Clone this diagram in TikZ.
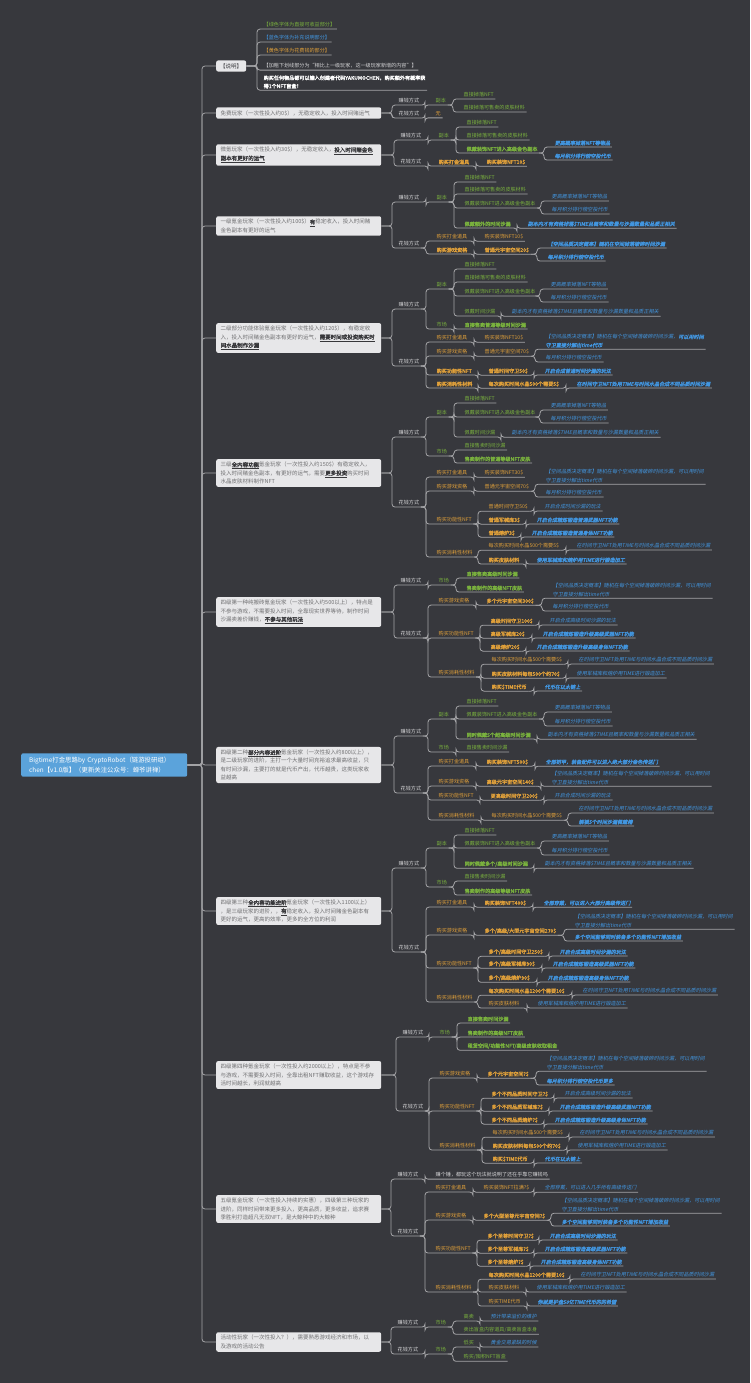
\documentclass[tikz,border=0pt]{standalone}
\usepackage{fontspec}
\setmainfont{Noto Sans CJK SC}[AutoFakeBold=2,AutoFakeSlant=0.2]
\usepackage{tikz}
\definecolor{canvas}{RGB}{55,56,61}
\definecolor{wire}{RGB}{165,165,168}
\definecolor{rootblue}{RGB}{91,163,219}
\definecolor{boxfill}{RGB}{231,231,233}
\definecolor{boxtext}{RGB}{112,112,114}
\definecolor{boxdark}{RGB}{55,55,58}
\definecolor{earngreen}{RGB}{122,178,62}
\definecolor{noteblue}{RGB}{66,150,224}
\definecolor{costorange}{RGB}{224,160,58}
\definecolor{labelgrey}{RGB}{214,214,216}
\newcommand{\fsz}{\fontsize{5.1}{8.3}\selectfont}
\newcommand{\keyhl}[1]{{\bfseries\color{boxdark}\underline{#1}}}
\newcommand{\limb}[6][wt]{%
  \node[#1] (#2) at (#4,#5) {#6};
  \draw[link] (#3.east) -| ([xshift=-5pt]#2.south west) -- (#2.south east);}
\newcommand{\twig}[6][gt]{%
  \node[#1] (#2) at (#4,#5) {#6};
  \draw[link] (#3.south east) -| ([xshift=-9pt]#2.south west) -- (#2.south east);}
\tikzset{
  base/.style={anchor=west, inner xsep=1.5pt, inner ysep=1.5pt, align=left, font=\fsz},
  wt/.style={base, text=labelgrey},
  nt/.style={base, text=white, font=\fsz\bfseries},
  gt/.style={base, text=earngreen},
  gtb/.style={gt, font=\fsz\bfseries},
  bu/.style={base, text=noteblue},
  bt/.style={base, text=noteblue, font=\fsz\itshape},
  btb/.style={bt, font=\fsz\bfseries\itshape},
  ot/.style={base, text=costorange},
  otb/.style={ot, font=\fsz\bfseries},
  link/.style={draw=wire, line width=0.8pt, rounded corners=3pt},
  tier/.style={anchor=west, fill=boxfill, rounded corners=2pt, text=boxtext, text width=156pt, align=left, inner xsep=4.5pt, inner ysep=3pt, font=\fontsize{5.5}{8.3}\selectfont},
  keybox/.style={anchor=west, fill=boxfill, rounded corners=2pt, text=boxdark, inner xsep=4pt, inner ysep=3pt, font=\fontsize{5.5}{8.3}\selectfont},
  rootbox/.style={anchor=west, fill=rootblue, rounded corners=2pt, text=white, text width=150pt, align=left, inner xsep=8pt, inner ysep=4pt, font=\fontsize{6.4}{9.3}\selectfont}
}
\begin{document}
\begin{tikzpicture}[x=1pt, y=-1pt]
\fill[canvas] (0,0) rectangle (750,1383);
\useasboundingbox (0,0) rectangle (750,1383);

\node[rootbox] (root) at (21,765) {Bigtime打金思路by CryptoRobot（链游投研组）\\chen【v1.0版】（更新关注公众号：蝉爷讲禅）};

\node[keybox] (A) at (216,66) {【说明】};
\node[tier] (B) at (216,113) {免费玩家（一次性投入约0\$），无稳定收入，投入时间赌运气};
\node[tier] (C) at (216,155) {微氪玩家（一次性投入约30\$），无稳定收入，\keyhl{投入时间赌金色}\\\keyhl{副本有更好的运气}};
\node[tier] (D) at (216,226) {一级氪金玩家（一次性投入约100\$）\keyhl{有}稳定收入，投入时间赌\\金色副本有更好的运气};
\node[tier] (E) at (216,338) {二级部分功能体验氪金玩家（一次性投入约120\$），有稳定收\\入，投入时间赌金色副本有更好的运气，\keyhl{需要时间或投资购买时}\\\keyhl{间水晶制作沙漏}};
\node[tier] (F) at (216,473) {三级\keyhl{全内容功能}氪金玩家（一次性投入约150\$）有稳定收入，\\投入时间赌金色副本，有更好的运气，需要\keyhl{更多投资}购买时间\\水晶皮肤材料制作NFT};
\node[tier] (G) at (216,612) {四级第一种纯搬砖氪金玩家（一次性投入约500以上），特点是\\不参与游戏，不需要投入时间，全靠现实世界等待，制作时间\\沙漏卖差价赚钱，\keyhl{不参与其他玩法}};
\node[tier] (H) at (216,765) {四级第二种\keyhl{部分内容进阶}氪金玩家（一次性投入约800以上），\\是二级玩家的进阶，主打一个大量时间充裕追求最高收益，只\\有时间沙漏，主要打的就是代币产出，代币越贵，这类玩家收\\益越高};
\node[tier] (I) at (216,911) {四级第三种\keyhl{全内容功能进阶}氪金玩家（一次性投入1100以上）\\，是三级玩家的进阶，，\keyhl{有}稳定收入，投入时间赌金色副本有\\更好的运气，更高的效率，更多的全方位的利润};
\node[tier] (J) at (216,1075) {四级第四种氪金玩家（一次性投入约2000以上），特点是不参\\与游戏，不需要投入时间，全靠出租NFT赚取收益，这个游戏存\\活时间越长，利润就越高};
\node[tier] (K) at (216,1209) {五级氪金玩家（一次性投入持续的实惠），四级第三种玩家的\\进阶，同样时间带来更多投入，更高品质，更多收益，追求赛\\季胜利打造超凡无双NFT，是大鲸种中的大鲸种};
\node[tier] (L) at (216,1342) {活动性玩家（一次性投入？），需要熟悉游戏经济和市场，以\\及游戏的活动公告};

\draw[link] (root.east) -| ([xshift=-14pt]A.west) -- (A.west);
\draw[link] (root.east) -| ([xshift=-14pt]B.west) -- (B.west);
\draw[link] (root.east) -| ([xshift=-14pt]C.west) -- (C.west);
\draw[link] (root.east) -| ([xshift=-14pt]D.west) -- (D.west);
\draw[link] (root.east) -| ([xshift=-14pt]E.west) -- (E.west);
\draw[link] (root.east) -| ([xshift=-14pt]F.west) -- (F.west);
\draw[link] (root.east) -| ([xshift=-14pt]G.west) -- (G.west);
\draw[link] (root.east) -| ([xshift=-14pt]H.west) -- (H.west);
\draw[link] (root.east) -| ([xshift=-14pt]I.west) -- (I.west);
\draw[link] (root.east) -| ([xshift=-14pt]J.west) -- (J.west);
\draw[link] (root.east) -| ([xshift=-14pt]K.west) -- (K.west);
\draw[link] (root.east) -| ([xshift=-14pt]L.west) -- (L.west);

\limb[gt]{A1}{A}{262}{25}{【绿色字体为直接可收益部分】}
\limb[bu]{A2}{A}{262}{38}{【蓝色字体为补充说明部分】}
\limb[ot]{A3}{A}{262}{51}{【黄色字体为花费钱的部分】}
\limb[wt]{A4}{A}{262}{66}{【加粗下划线部分为“相比上一级玩家，这一级玩家新增的内容”】}
\limb[nt]{A5}{A}{262}{82}{购买任何物品都可以输入创建者代码YAKUMOCHEN，购买额外有概率获\\得1个NFT盲盒！}

\limb{Be}{B}{397}{101}{赚钱方式}
\twig[gt]{Be1}{Be}{434}{101}{副本}
\twig[gt]{Be11}{Be1}{462}{95}{直接掉落NFT}
\twig[gt]{Be12}{Be1}{462}{108}{直接掉落可售卖的皮肤材料}
\limb{Bs}{B}{397}{114}{花钱方式}
\twig[ot]{Bs1}{Bs}{434}{114}{无}

\limb{Ce}{C}{399}{136}{赚钱方式}
\twig[gt]{Ce1}{Ce}{437}{136}{副本}
\twig[gt]{Ce11}{Ce1}{465}{123}{直接掉落NFT}
\twig[gt]{Ce12}{Ce1}{465}{136}{直接掉落可售卖的皮肤材料}
\twig[gtb]{Ce13}{Ce1}{465}{149}{佩戴装饰NFT进入高级金色副本}
\twig[btb]{Ce131}{Ce13}{553}{143}{更高概率掉落NFT等物品}
\twig[btb]{Ce132}{Ce13}{553}{156}{每月积分排行榜空投代币}
\limb{Cs}{C}{399}{162}{花钱方式}
\twig[otb]{Cs1}{Cs}{437}{162}{购买打金道具}
\twig[otb]{Cs11}{Cs1}{485}{162}{购买装饰NFT10\$}

\limb{De}{D}{397}{198}{赚钱方式}
\twig[gt]{De1}{De}{435}{198}{副本}
\twig[gt]{De11}{De1}{463}{178}{直接掉落NFT}
\twig[gt]{De12}{De1}{463}{190}{直接掉落可售卖的皮肤材料}
\twig[gt]{De13}{De1}{463}{204}{佩戴装饰NFT进入高级金色副本}
\twig[bt]{De131}{De13}{550}{197}{更高概率掉落NFT等物品}
\twig[bt]{De132}{De13}{550}{210}{每月积分排行榜空投代币}
\twig[gtb]{De14}{De1}{463}{224}{佩戴额外的时间沙漏}
\twig[btb]{De141}{De14}{526}{224}{副本内才有资格掉落\$TIME且概率和数量与沙漏数量和品质正相关}
\limb{Ds}{D}{397}{244}{花钱方式}
\twig[ot]{Ds1}{Ds}{435}{237}{购买打金道具}
\twig[ot]{Ds11}{Ds1}{483}{237}{购买装饰NFT10\$}
\twig[otb]{Ds2}{Ds}{435}{250}{购买游戏资格}
\twig[otb]{Ds21}{Ds2}{483}{250}{普通元宇宙空间20\$}
\twig[btb]{Ds211}{Ds21}{546}{244}{【空间品质决定概率】随机在空间掉落破碎时间沙漏}
\twig[btb]{Ds212}{Ds21}{546}{257}{每月积分排行榜空投代币}

\limb{Ee}{E}{397}{305}{赚钱方式}
\twig[gt]{Ee1}{Ee}{435}{285}{副本}
\twig[gt]{Ee11}{Ee1}{463}{265}{直接掉落NFT}
\twig[gt]{Ee12}{Ee1}{463}{278}{直接掉落可售卖的皮肤材料}
\twig[gt]{Ee13}{Ee1}{463}{292}{佩戴装饰NFT进入高级金色副本}
\twig[bt]{Ee131}{Ee13}{549}{285}{更高概率掉落NFT等物品}
\twig[bt]{Ee132}{Ee13}{549}{298}{每月积分排行榜空投代币}
\twig[gt]{Ee14}{Ee1}{463}{312}{佩戴时间沙漏}
\twig[bt]{Ee141}{Ee14}{510}{312}{副本内才有资格掉落\$TIME且概率和数量与沙漏数量和品质正相关}
\twig[gt]{Ee2}{Ee}{435}{325}{市场}
\twig[gtb]{Ee21}{Ee2}{463}{325}{直接售卖普通等级时间沙漏}
\limb{Es}{E}{397}{362}{花钱方式}
\twig[ot]{Es1}{Es}{435}{338}{购买打金道具}
\twig[ot]{Es11}{Es1}{483}{338}{购买装饰NFT10\$}
\twig[ot]{Es2}{Es}{435}{352}{购买游戏资格}
\twig[ot]{Es21}{Es2}{483}{352}{普通元宇宙空间70\$}
\twig[bt]{Es211}{Es21}{544}{341}{【空间品质决定概率】随机在每个空间掉落破碎时间沙漏，\textbf{可以用时间}\\\textbf{守卫直接分解出time代币}}
\twig[bt]{Es212}{Es21}{544}{358}{每月积分排行榜空投代币}
\twig[otb]{Es3}{Es}{435}{371}{购买功能性NFT}
\twig[otb]{Es31}{Es3}{487}{371}{普通时间守卫50\$}
\twig[btb]{Es311}{Es31}{543}{371}{开启合成普通时间沙漏的玩法}
\twig[otb]{Es4}{Es}{435}{384}{购买消耗性材料}
\twig[otb]{Es41}{Es4}{487}{384}{每次购买时间水晶500个需要5\$}
\twig[btb]{Es411}{Es41}{575}{384}{在时间守卫NFT处用TIME与时间水晶合成不同品质时间沙漏}

\limb{Fe}{F}{397}{433}{赚钱方式}
\twig[gt]{Fe1}{Fe}{435}{413}{副本}
\twig[gt]{Fe11}{Fe1}{463}{399}{直接掉落NFT}
\twig[gt]{Fe12}{Fe1}{463}{413}{佩戴装饰NFT进入高级金色副本}
\twig[bt]{Fe121}{Fe12}{549}{406}{更高概率掉落NFT等物品}
\twig[bt]{Fe122}{Fe12}{549}{419}{每月积分排行榜空投代币}
\twig[gt]{Fe13}{Fe1}{463}{433}{佩戴时间沙漏}
\twig[bt]{Fe131}{Fe13}{510}{433}{副本内才有资格掉落\$TIME且概率和数量与沙漏数量和品质正相关}
\twig[gt]{Fe2}{Fe}{435}{452}{市场}
\twig[gt]{Fe21}{Fe2}{463}{446}{直接售卖时间沙漏}
\twig[gtb]{Fe22}{Fe2}{463}{459}{售卖制作的普通等级NFT皮肤}
\limb{Fs}{F}{397}{503}{花钱方式}
\twig[ot]{Fs1}{Fs}{435}{473}{购买打金道具}
\twig[ot]{Fs11}{Fs1}{483}{473}{购买装饰NFT30\$}
\twig[ot]{Fs2}{Fs}{435}{487}{购买游戏资格}
\twig[ot]{Fs21}{Fs2}{483}{487}{普通元宇宙空间70\$}
\twig[bt]{Fs211}{Fs21}{544}{476}{【空间品质决定概率】随机在每个空间掉落破碎时间沙漏，可以用时间\\守卫直接分解出time代币}
\twig[bt]{Fs212}{Fs21}{544}{493}{每月积分排行榜空投代币}
\twig[ot]{Fs3}{Fs}{435}{520}{购买功能性NFT}
\twig[ot]{Fs31}{Fs3}{487}{507}{普通时间守卫50\$}
\twig[bt]{Fs311}{Fs31}{543}{507}{开启合成时间沙漏的玩法}
\twig[otb]{Fs32}{Fs3}{487}{520}{普通军械库3\$}
\twig[btb]{Fs321}{Fs32}{535}{520}{开启合成精炼锻造普通武器NFT功能}
\twig[otb]{Fs33}{Fs3}{487}{533}{普通熔炉3\$}
\twig[btb]{Fs331}{Fs33}{530}{533}{开启合成精炼锻造普通身体NFT功能}
\twig[ot]{Fs4}{Fs}{435}{553}{购买消耗性材料}
\twig[ot]{Fs41}{Fs4}{487}{546}{每次购买时间水晶500个需要5\$}
\twig[bt]{Fs411}{Fs41}{575}{546}{在时间守卫NFT处用TIME与时间水晶合成不同品质时间沙漏}
\twig[otb]{Fs42}{Fs4}{487}{560}{购买皮肤材料}
\twig[btb]{Fs421}{Fs42}{535}{560}{使用军械库和熔炉用TIME进行锻造加工}

\limb{Ge}{G}{399}{581}{赚钱方式}
\twig[gt]{Ge1}{Ge}{437}{581}{市场}
\twig[gtb]{Ge11}{Ge1}{465}{574}{直接售卖高级时间沙漏}
\twig[gtb]{Ge12}{Ge1}{465}{588}{售卖制作的高级NFT皮肤}
\limb{Gs}{G}{399}{634}{花钱方式}
\twig[ot]{Gs1}{Gs}{437}{601}{购买游戏资格}
\twig[otb]{Gs11}{Gs1}{485}{601}{多个元宇宙空间300\$}
\twig[bt]{Gs111}{Gs11}{551}{590}{【空间品质决定概率】随机在每个空间掉落破碎时间沙漏，可以用时间\\守卫直接分解出time代币}
\twig[bt]{Gs112}{Gs11}{551}{607}{每月积分排行榜空投代币}
\twig[ot]{Gs2}{Gs}{437}{634}{购买功能性NFT}
\twig[otb]{Gs21}{Gs2}{489}{621}{高级时间守卫100\$}
\twig[bt]{Gs211}{Gs21}{548}{621}{开启合成高级时间沙漏的玩法}
\twig[otb]{Gs22}{Gs2}{489}{634}{高级军械库20\$}
\twig[btb]{Gs221}{Gs22}{541}{634}{开启合成精炼锻造升级高级武器NFT功能}
\twig[otb]{Gs23}{Gs2}{489}{647}{高级熔炉20\$}
\twig[btb]{Gs231}{Gs23}{535}{647}{开启合成精炼锻造升级高级身体NFT功能}
\twig[ot]{Gs3}{Gs}{437}{673}{购买消耗性材料}
\twig[ot]{Gs31}{Gs3}{490}{660}{每次购买时间水晶500个需要5\$}
\twig[bt]{Gs311}{Gs31}{577}{660}{在时间守卫NFT处用TIME与时间水晶合成不同品质时间沙漏}
\twig[otb]{Gs32}{Gs3}{490}{674}{购买皮肤材料每包500个约70\$}
\twig[bt]{Gs321}{Gs32}{575}{674}{使用军械库和熔炉用TIME进行锻造加工}
\twig[otb]{Gs33}{Gs3}{490}{687}{购买\$TIME代币}
\twig[btb]{Gs331}{Gs33}{543}{687}{代币在以太链上}

\limb{He}{H}{399}{732}{赚钱方式}
\twig[gt]{He1}{He}{437}{715}{副本}
\twig[gt]{He11}{He1}{465}{702}{直接掉落NFT}
\twig[gt]{He12}{He1}{465}{715}{佩戴装饰NFT进入高级金色副本}
\twig[bt]{He121}{He12}{553}{708}{更高概率掉落NFT等物品}
\twig[bt]{He122}{He12}{553}{722}{每月积分排行榜空投代币}
\twig[gtb]{He13}{He1}{465}{735}{同时佩戴5个超高级时间沙漏}
\twig[bt]{He131}{He13}{546}{735}{副本内才有资格掉落\$TIME且概率和数量与沙漏数量和品质正相关}
\twig[gt]{He2}{He}{437}{748}{市场}
\twig[gt]{He21}{He2}{465}{748}{直接售卖时间沙漏}
\limb{Hs}{H}{399}{789}{花钱方式}
\twig[ot]{Hs1}{Hs}{437}{762}{购买打金道具}
\twig[otb]{Hs11}{Hs1}{485}{762}{购买装饰NFT500\$}
\twig[btb]{Hs111}{Hs11}{544}{762}{全部铠甲，装备配件可以进入绝大部分金色传送门}
\twig[ot]{Hs2}{Hs}{437}{782}{购买游戏资格}
\twig[otb]{Hs21}{Hs2}{485}{782}{高级元宇宙空间140\$}
\twig[bt]{Hs211}{Hs21}{550}{778}{【空间品质决定概率】随机在每个空间掉落破碎时间沙漏，可以用时间\\守卫直接分解出time代币}
\twig[ot]{Hs3}{Hs}{437}{796}{购买功能性NFT}
\twig[otb]{Hs31}{Hs3}{489}{796}{更高级时间守卫200\$}
\twig[bt]{Hs311}{Hs31}{553}{796}{开启合成时间沙漏的玩法}
\twig[ot]{Hs4}{Hs}{437}{816}{购买消耗性材料}
\twig[ot]{Hs41}{Hs4}{490}{816}{每次购买时间水晶500个需要5\$}
\twig[bt]{Hs411}{Hs41}{577}{809}{在时间守卫NFT处用TIME与时间水晶合成不同品质时间沙漏}
\twig[btb]{Hs412}{Hs41}{577}{822}{解锁5个时间沙漏佩戴槽}

\limb{Ie}{I}{397}{864}{赚钱方式}
\twig[gt]{Ie1}{Ie}{435}{844}{副本}
\twig[gt]{Ie11}{Ie1}{463}{831}{直接掉落NFT}
\twig[gt]{Ie12}{Ie1}{463}{844}{佩戴装饰NFT进入高级金色副本}
\twig[bt]{Ie121}{Ie12}{550}{837}{更高概率掉落NFT等物品}
\twig[bt]{Ie122}{Ie12}{550}{851}{每月积分排行榜空投代币}
\twig[gtb]{Ie13}{Ie1}{463}{864}{同时佩戴多个/高级时间沙漏}
\twig[bt]{Ie131}{Ie13}{543}{864}{副本内才有资格掉落\$TIME且概率和数量与沙漏数量和品质正相关}
\twig[gt]{Ie2}{Ie}{435}{883}{市场}
\twig[gt]{Ie21}{Ie2}{463}{877}{直接售卖时间沙漏}
\twig[gtb]{Ie22}{Ie2}{463}{891}{售卖制作的高级等级NFT皮肤}
\limb{Is}{I}{397}{948}{花钱方式}
\twig[ot]{Is1}{Is}{435}{903}{购买打金道具}
\twig[otb]{Is11}{Is1}{483}{903}{购买装饰NFT400\$}
\twig[btb]{Is111}{Is11}{542}{903}{全部穿戴，可以进入大部分高级传送门}
\twig[ot]{Is2}{Is}{435}{931}{购买游戏资格}
\twig[otb]{Is21}{Is2}{483}{931}{多个/高级/大型元宇宙空间270\$}
\twig[bt]{Is211}{Is21}{573}{921}{【空间品质决定概率】随机在每个空间掉落破碎时间沙漏，可以用时间\\守卫直接分解出time代币}
\twig[btb]{Is212}{Is21}{573}{937}{多个空间能够同时装备多个功能性NFT增加收益}
\twig[ot]{Is3}{Is}{435}{964}{购买功能性NFT}
\twig[otb]{Is31}{Is3}{487}{952}{多个/高级时间守卫250\$}
\twig[btb]{Is311}{Is31}{558}{952}{开启合成高级时间沙漏的玩法}
\twig[otb]{Is32}{Is3}{487}{964}{多个/高级军械库90\$}
\twig[btb]{Is321}{Is32}{551}{964}{开启合成精炼锻造高级武器NFT功能}
\twig[otb]{Is33}{Is3}{487}{978}{多个/高级熔炉90\$}
\twig[btb]{Is331}{Is33}{546}{978}{开启合成精炼锻造高级身体NFT功能}
\twig[ot]{Is4}{Is}{435}{998}{购买消耗性材料}
\twig[otb]{Is41}{Is4}{487}{991}{每次购买时间水晶1200个需要10\$}
\twig[bt]{Is411}{Is41}{581}{991}{在时间守卫NFT处用TIME与时间水晶合成不同品质时间沙漏}
\twig[ot]{Is42}{Is4}{487}{1004}{购买皮肤材料}
\twig[bt]{Is421}{Is42}{536}{1004}{使用军械库和熔炉用TIME进行锻造加工}

\limb{Je}{J}{401}{1033}{赚钱方式}
\twig[gt]{Je1}{Je}{438}{1033}{市场}
\twig[gtb]{Je11}{Je1}{466}{1019}{直接售卖时间沙漏}
\twig[gtb]{Je12}{Je1}{466}{1033}{售卖制作的高级NFT皮肤}
\twig[gtb]{Je13}{Je1}{466}{1046}{租赁空间/功能性NFT/高级皮肤收取租金}
\limb{Js}{J}{401}{1107}{花钱方式}
\twig[ot]{Js1}{Js}{438}{1074}{购买游戏资格}
\twig[otb]{Js11}{Js1}{486}{1074}{多个元宇宙空间?\$}
\twig[bt]{Js111}{Js11}{545}{1063}{【空间品质决定概率】随机在每个空间掉落破碎时间沙漏，可以用时间\\守卫直接分解出time代币}
\twig[btb]{Js112}{Js11}{545}{1081}{每月积分排行榜空投代币更多}
\twig[ot]{Js2}{Js}{438}{1107}{购买功能性NFT}
\twig[otb]{Js21}{Js2}{490}{1094}{多个不同品质时间守卫?\$}
\twig[bt]{Js211}{Js21}{563}{1094}{开启合成高级时间沙漏的玩法}
\twig[otb]{Js22}{Js2}{490}{1107}{多个不同品质军械库?\$}
\twig[btb]{Js221}{Js22}{558}{1107}{开启合成精炼锻造升级高级武器NFT功能}
\twig[otb]{Js23}{Js2}{490}{1120}{多个不同品质熔炉?\$}
\twig[btb]{Js231}{Js23}{553}{1120}{开启合成精炼锻造升级高级身体NFT功能}
\twig[ot]{Js3}{Js}{438}{1146}{购买消耗性材料}
\twig[ot]{Js31}{Js3}{491}{1133}{每次购买时间水晶500个需要5\$}
\twig[bt]{Js311}{Js31}{578}{1133}{在时间守卫NFT处用TIME与时间水晶合成不同品质时间沙漏}
\twig[otb]{Js32}{Js3}{491}{1146}{购买皮肤材料每包500个约70\$}
\twig[bt]{Js321}{Js32}{576}{1146}{使用军械库和熔炉用TIME进行锻造加工}
\twig[otb]{Js33}{Js3}{491}{1159}{购买\$TIME代币}
\twig[btb]{Js331}{Js33}{543}{1159}{代币在以太链上}

\limb{Ke}{K}{396}{1175}{赚钱方式}
\twig[wt]{Ke1}{Ke}{434}{1175}{赚个锤，都玩这个玩法就说明了还在乎靠它赚钱吗}
\limb{Ks}{K}{396}{1232}{花钱方式}
\twig[ot]{Ks1}{Ks}{434}{1188}{购买打金道具}
\twig[ot]{Ks11}{Ks1}{482}{1188}{购买装饰NFT拉满?\$}
\twig[bt]{Ks111}{Ks11}{543}{1188}{全部穿戴，可以进入几乎所有高级传送门}
\twig[ot]{Ks2}{Ks}{434}{1216}{购买游戏资格}
\twig[otb]{Ks21}{Ks2}{482}{1216}{多个大型至尊元宇宙空间?\$}
\twig[bt]{Ks211}{Ks21}{560}{1205}{【空间品质决定概率】随机在每个空间掉落破碎时间沙漏，可以用时间\\守卫直接分解出time代币}
\twig[btb]{Ks212}{Ks21}{560}{1222}{多个空间能够同时装备多个功能性NFT增加收益}
\twig[ot]{Ks3}{Ks}{434}{1249}{购买功能性NFT}
\twig[otb]{Ks31}{Ks3}{486}{1236}{多个至尊时间守卫?\$}
\twig[btb]{Ks311}{Ks31}{548}{1236}{开启合成高级时间沙漏的玩法}
\twig[otb]{Ks32}{Ks3}{486}{1249}{多个至尊军械库?\$}
\twig[btb]{Ks321}{Ks32}{543}{1249}{开启合成精炼锻造高级武器NFT功能}
\twig[otb]{Ks33}{Ks3}{486}{1262}{多个至尊熔炉?\$}
\twig[btb]{Ks331}{Ks33}{539}{1262}{开启合成精炼锻造高级身体NFT功能}
\twig[ot]{Ks4}{Ks}{434}{1288}{购买消耗性材料}
\twig[otb]{Ks41}{Ks4}{487}{1275}{每次购买时间水晶1200个需要10\$}
\twig[bt]{Ks411}{Ks41}{579}{1275}{在时间守卫NFT处用TIME与时间水晶合成不同品质时间沙漏}
\twig[ot]{Ks42}{Ks4}{487}{1288}{购买皮肤材料}
\twig[bt]{Ks421}{Ks42}{535}{1288}{使用军械库和熔炉用TIME进行锻造加工}
\twig[ot]{Ks43}{Ks4}{487}{1302}{购买TIME代币}
\twig[btb]{Ks431}{Ks43}{536}{1302}{你就是护盘50亿TIME代币的的希望}

\limb{Le}{L}{396}{1323}{赚钱方式}
\twig[gt]{Le1}{Le}{434}{1323}{市场}
\twig[gt]{Le11}{Le1}{462}{1317}{高卖}
\twig[bt]{Le111}{Le11}{489}{1317}{预计带来溢价的维护}
\twig[gt]{Le12}{Le1}{462}{1330}{卖出盲盒内容道具/高卖盲盒本身}
\limb{Ls}{L}{396}{1350}{花钱方式}
\twig[gt]{Ls1}{Ls}{434}{1350}{市场}
\twig[gt]{Ls11}{Ls1}{462}{1343}{低买}
\twig[bt]{Ls111}{Ls11}{489}{1343}{黄金交易紧缺的时候}
\twig[gt]{Ls12}{Ls1}{462}{1357}{购买/囤积NFT盲盒}
\end{tikzpicture}
\end{document}
